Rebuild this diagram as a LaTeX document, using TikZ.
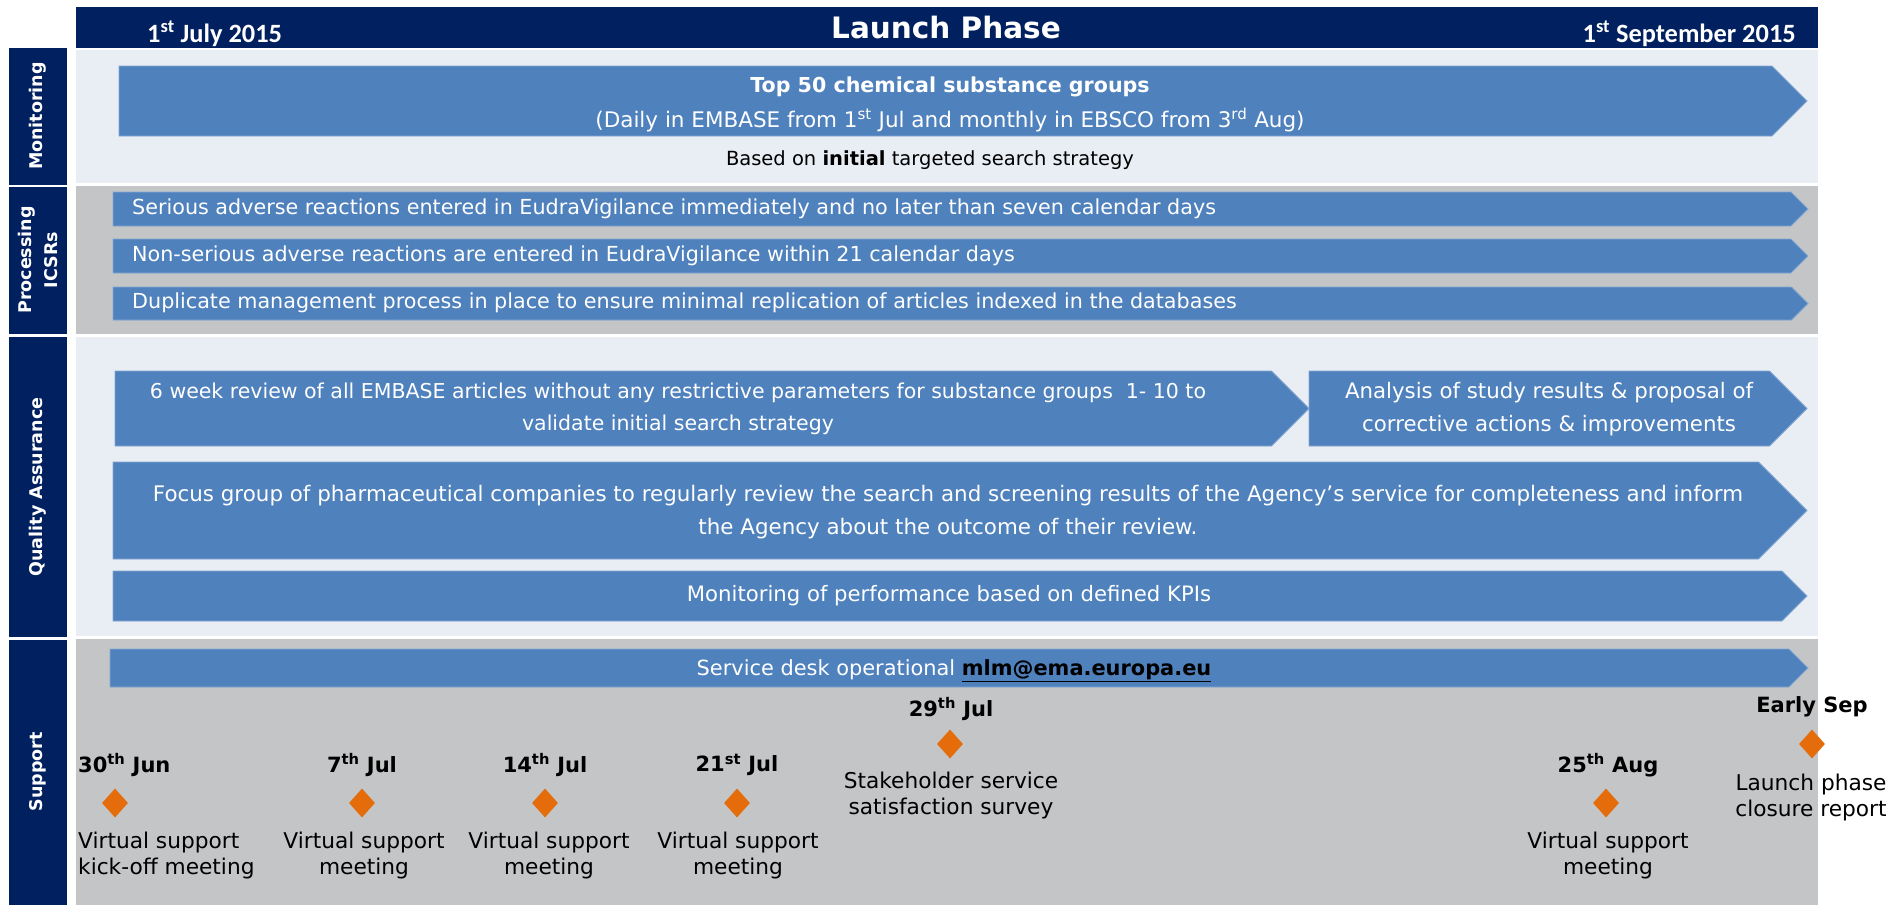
\documentclass[tikz,border=0pt]{standalone}
\usepackage{fontspec}
\setmainfont{DejaVu Sans}
\newfontfamily\headfont{Carlito}
\usetikzlibrary{shapes.geometric}
\definecolor{navy}{HTML}{002060}
\definecolor{barblue}{HTML}{4F81BD}
\definecolor{paleband}{HTML}{E9EDF4}
\definecolor{greyband}{HTML}{C4C5C7}
\definecolor{mileorange}{HTML}{E46C0A}
% pentagon bar: [style](left,top)(tip,bottom), the point is half the height deep
\def\chevron[#1](#2,#3)(#4,#5){\draw[#1] (#2,#3) -- ({#4-(#5-#3)/2},#3) -- (#4,{(#3+#5)/2}) -- ({#4-(#5-#3)/2},#5) -- (#2,#5) -- cycle;}
\newcommand{\fsz}[1]{\fontsize{#1}{32.5}\selectfont}

\begin{document}
\begin{tikzpicture}[x=1pt,y=-1pt,
		bar/.style={fill=barblue, draw=barblue!70!white, line width=0.8pt},
		bartext/.style={text=white, font=\fsz{20.7}, align=center, inner sep=0},
		lanelabel/.style={rotate=90, text=white, font=\bfseries\fontsize{17.5}{26}\selectfont, align=center, inner sep=0},
		datelabel/.style={font=\bfseries\fontsize{21}{26}\selectfont, inner sep=0},
		mile/.style={diamond, fill=mileorange, minimum width=26pt, minimum height=29pt, inner sep=0},
		miletext/.style={font=\fontsize{21.7}{26}\selectfont, align=center, inner sep=0}]
		%%%%% START %%%%%
		
		\useasboundingbox (0,0) rectangle (1888,905);
		
		% header
		\fill[navy] (76, 7) rectangle (1818, 48);
		\node[text=white, font=\headfont\bfseries\fontsize{26.4}{30}\selectfont, anchor=base west, inner sep=0] (start) at (147, 42) {1\textsuperscript{st} July 2015};
		\node[text=white, font=\bfseries\fontsize{29.5}{32}\selectfont, inner sep=0] (phase) at (946, 28) {Launch Phase};
		\node[text=white, font=\headfont\bfseries\fontsize{26.4}{30}\selectfont, anchor=base east, inner sep=0] (finish) at (1796, 42) {1\textsuperscript{st} September 2015};
		
		% lanes
		\fill[navy] (9, 48) rectangle (67, 185);
		\fill[navy] (9, 187) rectangle (67, 334);
		\fill[navy] (9, 337) rectangle (67, 637);
		\fill[navy] (9, 640) rectangle (67, 905);
		\fill[paleband] (76, 50) rectangle (1818, 183);
		\fill[greyband] (76, 186) rectangle (1818, 334);
		\fill[paleband] (76, 337) rectangle (1818, 636);
		\fill[greyband] (76, 639) rectangle (1818, 905);
		\node[lanelabel] (monlab) at (38, 116) {Monitoring};
		\node[lanelabel] (proclab) at (38, 260) {Processing\\ICSRs};
		\node[lanelabel] (qalab) at (38, 487) {Quality Assurance};
		\node[lanelabel] (suplab) at (38, 772) {Support};
		
		% monitoring
		\chevron[bar](119, 66)(1807, 136);
		\node[bartext, font=\bfseries\fsz{20.6}] (top50) at (950, 87) {Top 50 chemical substance groups};
		\node[bartext, font=\fsz{21.5}] (daily) at (950, 120) {(Daily in EMBASE from 1\textsuperscript{st} Jul and monthly in EBSCO from 3\textsuperscript{rd} Aug)};
		\node[font=\fsz{19.5}, inner sep=0] (initial) at (930, 160) {Based on \textbf{initial} targeted search strategy};
		
		% processing ICSRs
		\chevron[bar](113, 192)(1808, 226);
		\chevron[bar](113, 239)(1808, 273);
		\chevron[bar](113, 287)(1808, 320);
		\node[bartext, anchor=west] (serious) at (132, 209) {Serious adverse reactions entered in EudraVigilance immediately and no later than seven calendar days};
		\node[bartext, anchor=west] (nonserious) at (132, 256) {Non-serious adverse reactions are entered in EudraVigilance within 21 calendar days};
		\node[bartext, anchor=west] (duplicate) at (132, 303) {Duplicate management process in place to ensure minimal replication of articles indexed in the databases};
		
		% quality assurance
		\chevron[bar](115, 371)(1309, 446);
		\chevron[bar](1309, 371)(1807, 446);
		\chevron[bar](113, 462)(1807, 559);
		\chevron[bar](113, 571)(1807, 621);
		\node[bartext, font=\fsz{20.5}] (review) at (678, 409) {6 week review of all EMBASE articles without any restrictive parameters for substance groups \ 1- 10 to\\validate initial search strategy};
		\node[bartext, font=\fsz{21.3}] (analysis) at (1549, 409) {Analysis of study results \& proposal of\\corrective actions \& improvements};
		\node[bartext, font=\fsz{21.4}] (focus) at (948, 512) {Focus group of pharmaceutical companies to regularly review the search and screening results of the Agency’s service for completeness and inform\\the Agency about the outcome of their review.};
		\node[bartext, font=\fsz{21.2}] (kpis) at (949, 596) {Monitoring of performance based on defined KPIs};
		
		% support
		\chevron[bar](110, 649)(1808, 687);
		\node[bartext, font=\fsz{20.9}] (desk) at (954, 671) {Service desk operational \textcolor{black}{\textbf{\underline{mlm@ema.europa.eu}}}};
		
		\node[datelabel, anchor=west] (d30jun) at (78, 765) {30\textsuperscript{th} Jun};
		\node[mile] (m30jun) at (115, 803) {};
		\node[miletext, anchor=west, align=left] (t30jun) at (78, 856) {Virtual support\\kick-off meeting};
		
		\node[datelabel] (d7jul) at (362, 765) {7\textsuperscript{th} Jul};
		\node[mile] (m7jul) at (362, 803) {};
		\node[miletext] (t7jul) at (364, 856) {Virtual support\\meeting};
		
		\node[datelabel] (d14jul) at (545, 765) {14\textsuperscript{th} Jul};
		\node[mile] (m14jul) at (545, 803) {};
		\node[miletext] (t14jul) at (549, 856) {Virtual support\\meeting};
		
		\node[datelabel] (d21jul) at (737, 765) {21\textsuperscript{st} Jul};
		\node[mile] (m21jul) at (737, 803) {};
		\node[miletext] (t21jul) at (738, 856) {Virtual support\\meeting};
		
		\node[datelabel] (d29jul) at (951, 709) {29\textsuperscript{th} Jul};
		\node[mile] (m29jul) at (950, 744) {};
		\node[miletext] (t29jul) at (951, 796) {Stakeholder service\\satisfaction survey};
		
		\node[datelabel] (d25aug) at (1608, 765) {25\textsuperscript{th} Aug};
		\node[mile] (m25aug) at (1606, 803) {};
		\node[miletext] (t25aug) at (1608, 856) {Virtual support\\meeting};
		
		\node[datelabel] (dsep) at (1812, 707) {Early Sep};
		\node[mile] (msep) at (1812, 744) {};
		\node[miletext] (tsep) at (1811, 798) {Launch phase\\closure report};
		
		%%%%% END %%%%%
	\end{tikzpicture}
\end{document}
